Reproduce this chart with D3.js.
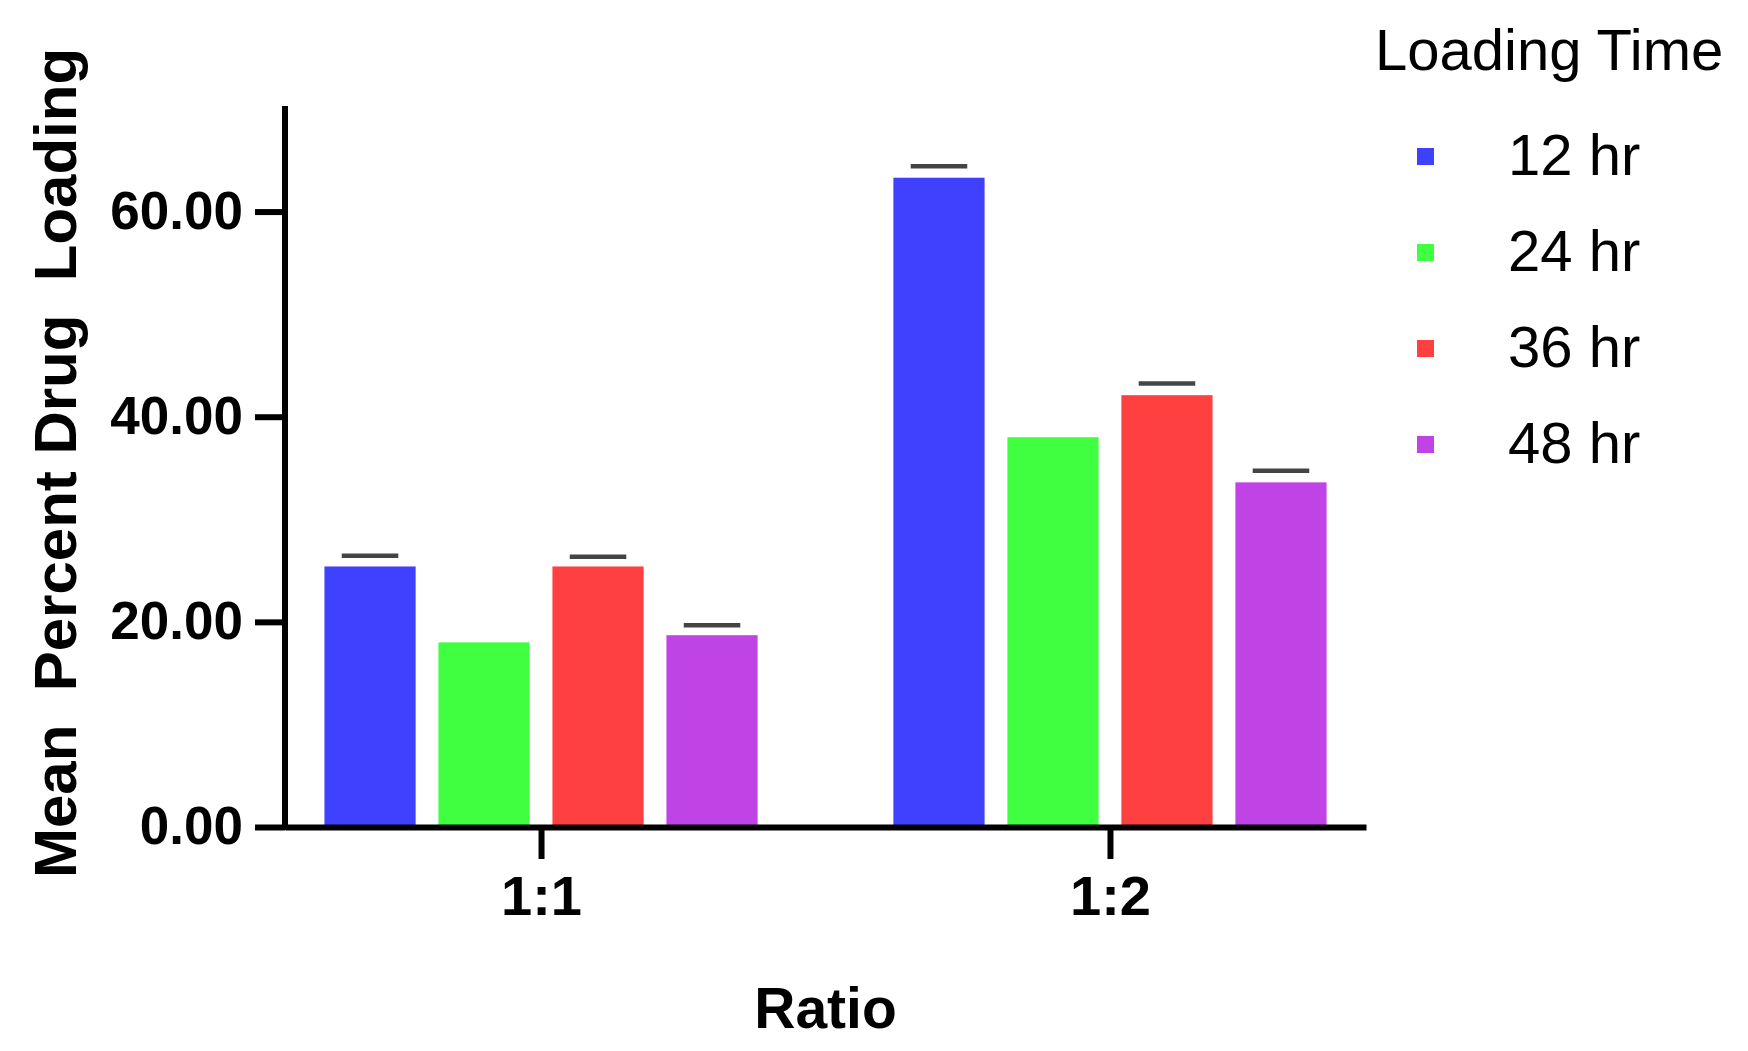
<!DOCTYPE html>
<html>
<head>
<meta charset="utf-8">
<script src="https://cdn.jsdelivr.net/npm/d3@7"></script>
<style>
	body { margin: 0; background: #fff; }
	svg text { font-family: "Liberation Sans", Arial, sans-serif; fill: #000; }
</style>
</head>
<body>
<div class="chart"></div>
<script>
// data
var ratios = ["1:1", "1:2"];
var times = ["12 hr", "24 hr", "36 hr", "48 hr"];
var colors = ["#4040ff", "#40ff40", "#ff4040", "#c043e6"];
var mean12 = [25.4, 63.3];
var mean24 = [18.0, 38.0];
var mean36 = [25.4, 42.1];
var mean48 = [18.7, 33.6];
var err12 = [1.05, 1.13];
var err24 = [null, null];
var err36 = [0.95, 1.14];
var err48 = [0.98, 1.13];
var yTicks = [0, 20, 40, 60];

var means = [mean12, mean24, mean36, mean48];
var errs = [err12, err24, err36, err48];

var width = 1748, height = 1051;
var margin = { top: 109, right: 382, bottom: 224, left: 285 };

var svg = d3.select("div.chart").append("svg")
	.attr("width", width)
	.attr("height", height);

var x0 = d3.scalePoint()
	.domain(ratios)
	.range([margin.left, width - margin.right])
	.padding(0.45);

var x1 = d3.scaleBand()
	.domain(times)
	.range([-228, 228])
	.paddingInner(0.2)
	.paddingOuter(0.1);

var y = d3.scaleLinear()
	.domain([0, 70])
	.range([height - margin.bottom, margin.top]);

var color = d3.scaleOrdinal().domain(times).range(colors);

// one record per bar
var bars = [];
ratios.forEach(function(r, i) {
	times.forEach(function(t, j) {
		bars.push({ ratio: r, time: t, value: means[j][i], err: errs[j][i] });
	});
});

// bars
svg.append("g").selectAll("rect")
	.data(bars).enter().append("rect")
	.attr("x", function(d) { return x0(d.ratio) + x1(d.time); })
	.attr("y", function(d) { return y(d.value); })
	.attr("width", x1.bandwidth())
	.attr("height", function(d) { return y(0) - y(d.value); })
	.style("fill", function(d) { return color(d.time); });

// error caps (only the upper cap shows)
var capW = x1.bandwidth() * 0.62;
svg.append("g").selectAll("line")
	.data(bars.filter(function(d) { return d.err != null; })).enter().append("line")
	.attr("x1", function(d) { return x0(d.ratio) + x1(d.time) + x1.bandwidth() / 2 - capW / 2; })
	.attr("x2", function(d) { return x0(d.ratio) + x1(d.time) + x1.bandwidth() / 2 + capW / 2; })
	.attr("y1", function(d) { return y(d.value + d.err); })
	.attr("y2", function(d) { return y(d.value + d.err); })
	.style("stroke", "#444")
	.style("stroke-width", 4.5);

// y axis
var yAxis = svg.append("g")
	.attr("transform", "translate(" + margin.left + ",0)")
	.call(d3.axisLeft(y).tickValues(yTicks).tickFormat(d3.format(".2f"))
		.tickSizeInner(30).tickSizeOuter(0).tickPadding(12));
yAxis.select(".domain").attr("d", "M0," + (y(0) + 3) + "V" + (margin.top - 3))
	.style("stroke", "#000").style("stroke-width", 6);
yAxis.selectAll(".tick line").style("stroke", "#000").style("stroke-width", 6);
yAxis.selectAll(".tick text")
	.style("font-size", "53px").style("font-weight", "bold")
	.style("font-family", "'Liberation Sans', Arial, sans-serif");

// x axis
var xAxis = svg.append("g")
	.attr("transform", "translate(0," + y(0) + ")")
	.call(d3.axisBottom(x0).tickSizeInner(32).tickSizeOuter(0));
xAxis.select(".domain").style("stroke", "#000").style("stroke-width", 6);
xAxis.selectAll(".tick line").style("stroke", "#000").style("stroke-width", 6);
xAxis.selectAll(".tick text")
	.attr("y", 88).attr("dy", 0)
	.style("font-size", "56px").style("font-weight", "bold")
	.style("font-family", "'Liberation Sans', Arial, sans-serif");

// axis titles
svg.append("text")
	.attr("x", (margin.left + width - margin.right) / 2)
	.attr("y", 1028)
	.style("text-anchor", "middle")
	.style("font-size", "57px").style("font-weight", "bold")
	.text("Ratio");

svg.append("text")
	.attr("transform", "translate(76,463) rotate(-90)")
	.style("text-anchor", "middle")
	.style("white-space", "pre")
	.style("font-size", "60px").style("font-weight", "bold")
	.text("Mean  Percent Drug  Loading");

// legend
var legend = svg.append("g").attr("transform", "translate(1375,0)");
legend.append("text")
	.attr("x", 0).attr("y", 70)
	.style("font-size", "58px")
	.text("Loading Time");

var item = legend.selectAll("g.item")
	.data(times).enter().append("g")
	.attr("class", "item")
	.attr("transform", function(d, i) { return "translate(0," + (175 + i * 96) + ")"; });
item.append("rect")
	.attr("x", 42).attr("y", -27)
	.attr("width", 17).attr("height", 17)
	.style("fill", function(d) { return color(d); });
item.append("text")
	.attr("x", 133).attr("y", 0)
	.style("font-size", "58px")
	.text(function(d) { return d; });
</script>
</body>
</html>
